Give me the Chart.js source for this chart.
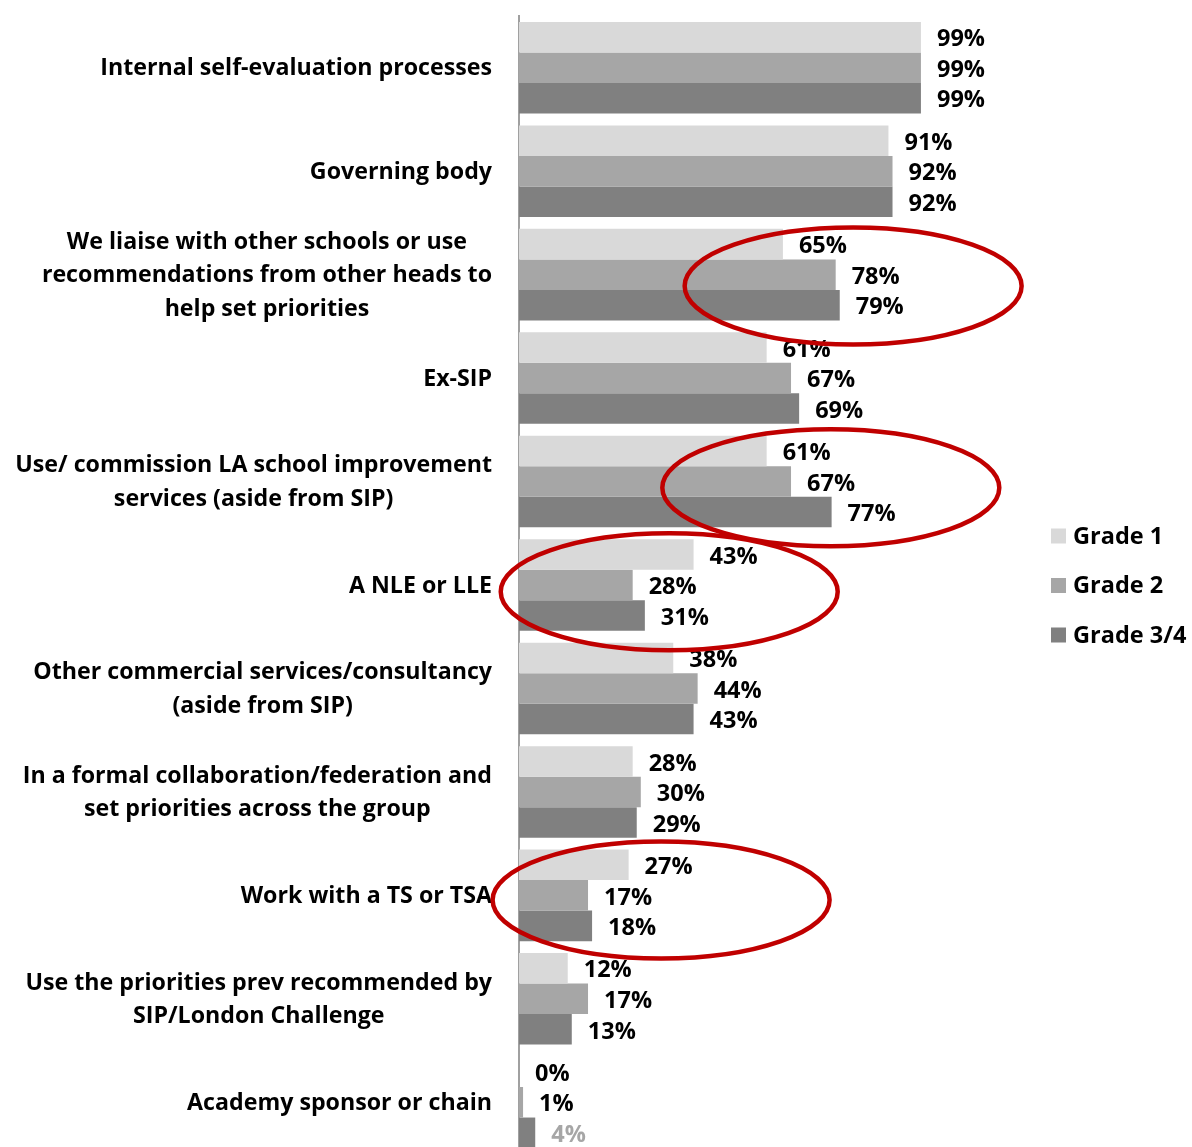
<!DOCTYPE html>
<html>
<head>
<meta charset="utf-8">
<script src="https://cdn.jsdelivr.net/npm/chart.js@4/dist/chart.umd.min.js"></script>
<style>
  html, body { margin: 0; padding: 0; background: #fff; overflow: hidden; }
  #wrap { width: 1192px; height: 1160px; }
</style>
</head>
<body>
<div id="wrap"><canvas id="c"></canvas></div>
<script>
const categories = [
  ["Internal self-evaluation processes"],
  ["Governing body"],
  ["We liaise with other schools or use", "recommendations from other heads to", "help set priorities"],
  ["Ex-SIP"],
  ["Use/ commission LA school improvement", "services (aside from SIP)"],
  ["A NLE or LLE"],
  ["Other commercial services/consultancy", "(aside from SIP)"],
  ["In a formal collaboration/federation and", "set priorities across the group"],
  ["Work with a TS or TSA"],
  ["Use the priorities prev recommended by", "SIP/London Challenge"],
  ["Academy sponsor or chain"]
];
const seriesNames = ["Grade 1", "Grade 2", "Grade 3/4"];
const grade1 = [99, 91, 65, 61, 61, 43, 38, 28, 27, 12, 0];
const grade2 = [99, 92, 78, 67, 67, 28, 44, 30, 17, 17, 1];
const grade34 = [99, 92, 79, 69, 77, 31, 43, 29, 18, 13, 4];
const seriesColors = ["#d9d9d9", "#a6a6a6", "#808080"];

// Highlight rings: category index, value at the centre, vertical shift (in categories)
const highlights = [
  { cat: 2, value: 82.3, shift: 0.11 },
  { cat: 4, value: 76.8, shift: 0.06 },
  { cat: 5, value: 37.0, shift: 0.065 },
  { cat: 8, value: 35.0, shift: 0.045 }
];

const FONT = "'Open Sans', Lato, sans-serif";

const valueLabels = {
  id: 'valueLabels',
  afterDatasetsDraw(chart) {
    const ctx = chart.ctx;
    ctx.save();
    ctx.font = "bold 23.5px " + FONT;
    ctx.textBaseline = 'middle';
    ctx.textAlign = 'left';
    chart.data.datasets.forEach((ds, di) => {
      const meta = chart.getDatasetMeta(di);
      meta.data.forEach((bar, i) => {
        const last = (i === ds.data.length - 1 && di === 2);
        ctx.fillStyle = last ? "#a6a6a6" : "#000";
        ctx.fillText(ds.data[i] + "%", bar.x + 16, bar.y + 2.5);
      });
    });
    ctx.restore();
  }
};

const categoryLabels = {
  id: 'categoryLabels',
  afterDraw(chart) {
    const ctx = chart.ctx;
    const y = chart.scales.y;
    const right = chart.chartArea.left - 27;
    const lh = 33.5;
    ctx.save();
    ctx.font = "bold 23.2px " + FONT;
    ctx.fillStyle = "#000";
    ctx.textBaseline = 'middle';
    ctx.textAlign = 'center';
    categories.forEach((lines, i) => {
      const maxW = Math.max(...lines.map(l => ctx.measureText(l).width));
      const cx = right - maxW / 2;
      const cy = y.getPixelForValue(i);
      lines.forEach((l, k) => {
        ctx.fillText(l, cx, cy + 1 + (k - (lines.length - 1) / 2) * lh);
      });
    });
    ctx.restore();
  }
};

const rings = {
  id: 'rings',
  afterDraw(chart) {
    const ctx = chart.ctx;
    const xs = chart.scales.x, ys = chart.scales.y;
    const band = ys.getPixelForValue(1) - ys.getPixelForValue(0);
    ctx.save();
    ctx.strokeStyle = "#c00000";
    ctx.lineWidth = 4.5;
    highlights.forEach(h => {
      const cx = xs.getPixelForValue(h.value);
      const cy = ys.getPixelForValue(h.cat + h.shift);
      const rx = xs.getPixelForValue(h.value + 41.5) - cx;
      const ry = band * 0.565;
      ctx.beginPath();
      ctx.ellipse(cx, cy, rx, ry, 0, 0, Math.PI * 2);
      ctx.stroke();
    });
    ctx.restore();
  }
};

const sideLegend = {
  id: 'sideLegend',
  afterDraw(chart) {
    const ctx = chart.ctx;
    ctx.save();
    ctx.font = "bold 23.5px " + FONT;
    ctx.textBaseline = 'middle';
    ctx.textAlign = 'left';
    chart.data.datasets.forEach((ds, i) => {
      const cy = 536 + i * 49.5;
      ctx.fillStyle = ds.backgroundColor;
      ctx.fillRect(1051, cy - 7.5, 15, 15);
      ctx.fillStyle = "#000";
      ctx.fillText(ds.label, 1073, cy + 1);
    });
    ctx.restore();
  }
};

new Chart(document.getElementById('c'), {
  type: 'bar',
  data: {
    labels: categories.map(l => l.join(" ")),
    datasets: [
      { label: seriesNames[0], data: grade1, backgroundColor: seriesColors[0] },
      { label: seriesNames[1], data: grade2, backgroundColor: seriesColors[1] },
      { label: seriesNames[2], data: grade34, backgroundColor: seriesColors[2] }
    ]
  },
  options: {
    indexAxis: 'y',
    responsive: true,
    maintainAspectRatio: false,
    animation: false,
    barPercentage: 1,
    categoryPercentage: 0.885,
    layout: { padding: { top: 16, bottom: 6, left: 0, right: 267 } },
    plugins: { legend: { display: false }, tooltip: { enabled: false } },
    scales: {
      x: {
        min: 0, max: 100,
        display: false
      },
      y: {
        ticks: { display: false },
        grid: { display: false },
        border: { display: true, color: "#a0a0a0", width: 2 },
        afterFit(s) { s.width = 519; }
      }
    }
  },
  plugins: [valueLabels, categoryLabels, rings, sideLegend]
});
</script>
</body>
</html>
